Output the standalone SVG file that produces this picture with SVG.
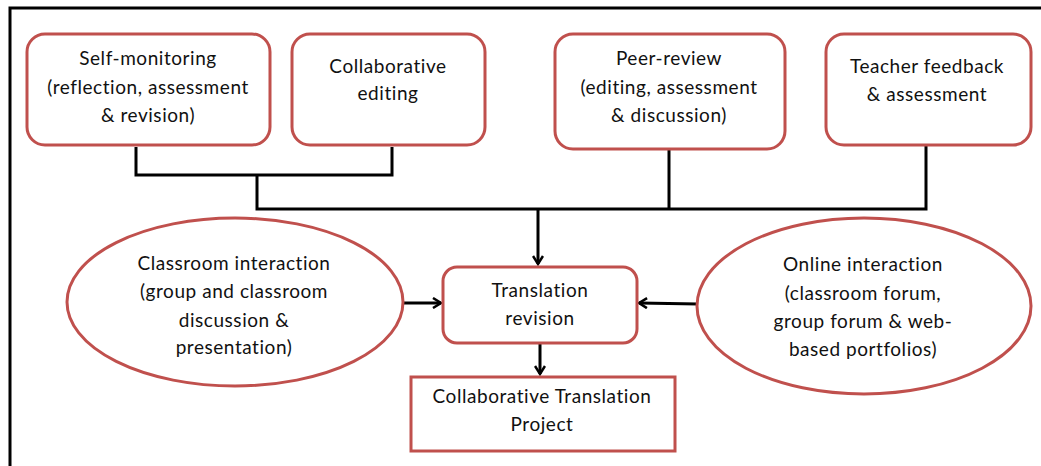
<svg xmlns="http://www.w3.org/2000/svg" width="1041" height="466" viewBox="0 0 1041 466">
<style>
.n{fill:#fff;stroke:#c0504d;stroke-width:3}
.t{font-family:Lato,"Open Sans",sans-serif;font-size:19px;letter-spacing:0.55px;fill:#111;text-anchor:middle}
.c{fill:none;stroke:#000;stroke-width:3}
</style>
<defs>
<marker id="ah" viewBox="0 0 12 12" refX="10" refY="6" markerWidth="12" markerHeight="12" markerUnits="userSpaceOnUse" orient="auto">
<polyline points="2,1 10,6 2,11" fill="none" stroke="#000" stroke-width="2.5"/>
</marker>
</defs>
<rect width="1041" height="466" fill="#fff"/>
<path d="M10,466 V8 H1041" fill="none" stroke="#000" stroke-width="3"/>
<g id="connectors">
<path class="c" d="M136,147 V175 H392 V147"/>
<path class="c" d="M257,175 V209 H926 V146"/>
<path class="c" d="M669,150 V209"/>
<path class="c" d="M538,209 V264" marker-end="url(#ah)"/>
<path class="c" d="M540,344 V374" marker-end="url(#ah)"/>
<path class="c" d="M403,303 H441" marker-end="url(#ah)"/>
<path class="c" d="M698,304 L639,303" marker-end="url(#ah)"/>
</g>
<g id="self">
<rect class="n" x="27" y="34" width="243" height="111" rx="18"/>
<text class="t" x="148" y="65">Self-monitoring</text>
<text class="t" x="148" y="93.5">(reflection, assessment</text>
<text class="t" x="148" y="122">&amp; revision)</text>
</g>
<g id="collab">
<rect class="n" x="292" y="34" width="193" height="111" rx="18"/>
<text class="t" x="388" y="73">Collaborative</text>
<text class="t" x="388" y="100">editing</text>
</g>
<g id="peer">
<rect class="n" x="555" y="34" width="230" height="115" rx="18"/>
<text class="t" x="669" y="65">Peer-review</text>
<text class="t" x="669" y="93.5">(editing, assessment</text>
<text class="t" x="669" y="122">&amp; discussion)</text>
</g>
<g id="teacher">
<rect class="n" x="826" y="34" width="205" height="111" rx="18"/>
<text class="t" x="927" y="73">Teacher feedback</text>
<text class="t" x="927" y="101">&amp; assessment</text>
</g>
<g id="classroom">
<ellipse class="n" cx="235" cy="302" rx="168" ry="84"/>
<text class="t" x="234" y="270">Classroom interaction</text>
<text class="t" x="234" y="298">(group and classroom</text>
<text class="t" x="234" y="327">discussion &amp;</text>
<text class="t" x="234" y="354">presentation)</text>
</g>
<g id="online">
<ellipse class="n" cx="864" cy="306" rx="167" ry="88"/>
<text class="t" x="863" y="271">Online interaction</text>
<text class="t" x="863" y="300">(classroom forum,</text>
<text class="t" x="863" y="328">group forum &amp; web-</text>
<text class="t" x="863" y="356">based portfolios)</text>
</g>
<g id="revision">
<rect class="n" x="443" y="267" width="194" height="76" rx="14"/>
<text class="t" x="540" y="297">Translation</text>
<text class="t" x="540" y="325">revision</text>
</g>
<g id="project">
<rect class="n" x="411" y="377" width="264" height="74"/>
<text class="t" x="542" y="403">Collaborative Translation</text>
<text class="t" x="542" y="431">Project</text>
</g>
</svg>
